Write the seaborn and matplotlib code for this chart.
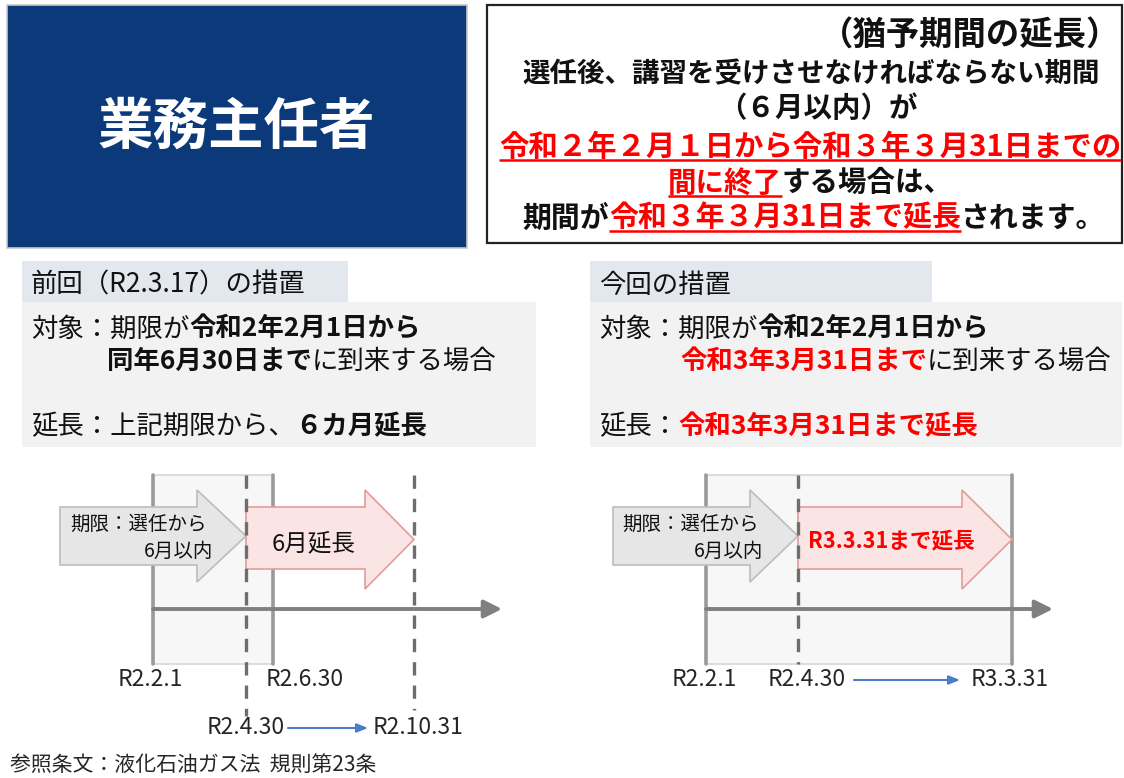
import matplotlib
matplotlib.use("Agg")
import matplotlib.pyplot as plt
import seaborn as sns
from matplotlib.patches import Rectangle, Polygon

sns.set_theme(style="white")
FAM = ['Noto Sans CJK JP', 'DejaVu Sans']
plt.rcParams['font.family'] = FAM

# ---------------- text content ----------------
title = "業務主任者"
notice_head = "（猶予期間の延長）"
notice_l2 = "選任後、講習を受けさせなければならない期間"
notice_l3 = "（６月以内）が"
notice_l4 = "令和２年２月１日から令和３年３月31日までの"
notice_l5 = ["間に終了", "する場合は、"]
notice_l6 = ["期間が", "令和３年３月31日まで延長", "されます。"]

prev_header = "前回（R2.3.17）の措置"
prev_target = ["対象：期限が", "令和2年2月1日から"]
prev_target2 = ["同年6月30日まで", "に到来する場合"]
prev_ext = ["延長：上記期限から、", "６カ月延長"]

curr_header = "今回の措置"
curr_target = ["対象：期限が", "令和2年2月1日から"]
curr_target2 = ["令和3年3月31日まで", "に到来する場合"]
curr_ext = ["延長：", "令和3年3月31日まで延長"]

deadline_label = ["期限：選任から", "6月以内"]
prev_ext_label = "6月延長"
curr_ext_label = "R3.3.31まで延長"

prev_dates = ["R2.2.1", "R2.6.30", "R2.4.30", "R2.10.31"]
curr_dates = ["R2.2.1", "R2.4.30", "R3.3.31"]
footer = "参照条文：液化石油ガス法  規則第23条"

NAVY = "#0C3979"
RED = "#FF0000"
BLACK = "#111111"
LABEL = "#262626"

fig = plt.figure(figsize=(11.24, 7.78), dpi=100)
ax = fig.add_axes([0, 0, 1, 1])
ax.set_xlim(0, 1124)
ax.set_ylim(778, 0)
ax.axis('off')
renderer = fig.canvas.get_renderer()


def rich(x, yc, segs, size, ha='left', ul_lw=1.8):
    """segs: list of (text, color, bold, underline). yc: visual centre."""
    px = size * 100 / 72
    base = yc + 0.36 * px
    objs, widths = [], []
    for t, c, b, u in segs:
        o = ax.text(x, base, t, fontsize=size, color=c,
                    fontweight='bold' if b else 'normal',
                    ha='left', va='baseline', family=FAM)
        w = o.get_window_extent(renderer=renderer).width
        objs.append(o)
        widths.append(w)
    total = sum(widths)
    if ha == 'center':
        cur = x - total / 2
    elif ha == 'right':
        cur = x - total
    else:
        cur = x
    for o, w, (t, c, b, u) in zip(objs, widths, segs):
        o.set_x(cur)
        if u:
            ax.plot([cur, cur + w], [base + 0.16 * px] * 2, color=c, lw=ul_lw,
                    solid_capstyle='butt')
        cur += w


def block_arrow(x0, x1, head_x, body_top, body_bot, head_top, head_bot, fc, ec):
    tip_y = (head_top + head_bot) / 2
    pts = [(x0, body_top), (head_x, body_top), (head_x, head_top), (x1, tip_y),
           (head_x, head_bot), (head_x, body_bot), (x0, body_bot)]
    ax.add_patch(Polygon(pts, closed=True, fc=fc, ec=ec, lw=1.2, zorder=3))


def label(x, y, s, ha='center'):
    ax.text(x, y, s, fontsize=16.5, color=LABEL, ha=ha, va='center')


def blue_arrow(x0, x1, y):
    ax.annotate("", xy=(x1, y), xytext=(x0, y),
                arrowprops=dict(arrowstyle="-|>,head_length=0.55,head_width=0.22",
                                color="#4A7CC9", lw=1.5, shrinkA=0, shrinkB=0))


# ---------------- top-left title box ----------------
ax.add_patch(Rectangle((7, 5), 460, 243, fc=NAVY, ec="#C8C8C8", lw=1.2))
ax.text(236, 128, title, fontsize=40, color='white', fontweight='bold',
        ha='center', va='center')

# ---------------- top-right notice box ----------------
ax.add_patch(Rectangle((487, 5), 635, 238, fc='white', ec='#222222', lw=1.6))
rich(1120, 33, [(notice_head, BLACK, True, False)], 24, ha='right')
rich(811, 72, [(notice_l2, BLACK, True, False)], 19.8, ha='center')
rich(818, 107, [(notice_l3, BLACK, True, False)], 20.5, ha='center')
rich(810, 145, [(notice_l4, RED, True, True)], 21.2, ha='center')
rich(810, 181, [(notice_l5[0], RED, True, True), (notice_l5[1], BLACK, True, False)],
     20.5, ha='center')
rich(814, 216, [(notice_l6[0], BLACK, True, False), (notice_l6[1], RED, True, True),
                (notice_l6[2], BLACK, True, False)], 20.8, ha='center')


# ---------------- measure panels ----------------
def panel(x0, header, w_head, w_box, t1, t2, ext, t2_x, colors):
    ax.add_patch(Rectangle((x0, 261), w_head, 41, fc="#E3E8EF", ec='none'))
    ax.add_patch(Rectangle((x0, 302), w_box, 145, fc="#F2F2F2", ec='none'))
    rich(x0 + 9, 283, [(header, BLACK, False, False)], 19)
    rich(x0 + 9, 327, [(t1[0], BLACK, False, False), (t1[1], BLACK, True, False)], 19)
    rich(t2_x, 359, [(t2[0], colors[0], True, False), (t2[1], BLACK, False, False)], 19)
    rich(x0 + 9, 425, [(ext[0], BLACK, False, False), (ext[1], colors[1], True, False)], 19)


panel(22, prev_header, 326, 514, prev_target, prev_target2, prev_ext, 107, (BLACK, BLACK))
panel(590, curr_header, 342, 532, curr_target, curr_target2, curr_ext, 680, (RED, RED))

# ---------------- timeline diagrams ----------------
DASH = "#6E6E6E"


def diagram(box_x0, box_x1, dashed, dash_ends, gray_x0, pink_x1, pink_head,
            gray_head, axis_end):
    ax.add_patch(Rectangle((box_x0, 475), box_x1 - box_x0, 189, fc="#F7F7F7",
                           ec="#D6D6D6", lw=1.2, zorder=1))
    for sx in (box_x0, box_x1):
        ax.plot([sx, sx], [475, 664], color="#9A9A9A", lw=2.6, zorder=2)
    ax.annotate("", xy=(axis_end, 609), xytext=(box_x0, 609),
                arrowprops=dict(arrowstyle="-|>,head_length=0.9,head_width=0.45",
                                color="#808080", lw=2.8, shrinkA=0, shrinkB=0),
                zorder=2)
    for dx, de in zip(dashed, dash_ends):
        ax.plot([dx, dx], [475, de], color=DASH, lw=2.4, ls=(0, (4, 3)), zorder=4)
    block_arrow(gray_x0, dashed[0], gray_head, 507, 565, 490, 582, "#E6E6E6", "#BDBDBD")
    block_arrow(dashed[0], pink_x1, pink_head, 507, 569, 490, 589, "#FBE4E4", "#E39C9C")


# left
diagram(153, 273, [246, 414], [716, 710], 60, 414, 365, 197, 502)
rich(70, 523, [(deadline_label[0], BLACK, False, False)], 14)
rich(213, 550, [(deadline_label[1], BLACK, False, False)], 14, ha='right')
rich(314, 542, [(prev_ext_label, BLACK, False, False)], 17, ha='center')
label(150, 679, prev_dates[0])
label(305, 679, prev_dates[1])
label(285, 728, prev_dates[2], ha='right')
label(373, 728, prev_dates[3], ha='left')
blue_arrow(288, 368, 728)

# right
diagram(706, 1012, [798], [664], 613, 1012, 962, 750, 1053)
rich(622, 523, [(deadline_label[0], BLACK, False, False)], 14)
rich(763, 550, [(deadline_label[1], BLACK, False, False)], 14, ha='right')
rich(808, 540, [(curr_ext_label, RED, True, False)], 15.6)
label(704, 680, curr_dates[0])
label(807, 680, curr_dates[1])
label(1010, 680, curr_dates[2])
blue_arrow(854, 960, 680)

# footer
ax.text(10, 765, footer, fontsize=15, color=LABEL, ha='left', va='center')

fig.savefig("out.png", dpi=100, facecolor='white')
